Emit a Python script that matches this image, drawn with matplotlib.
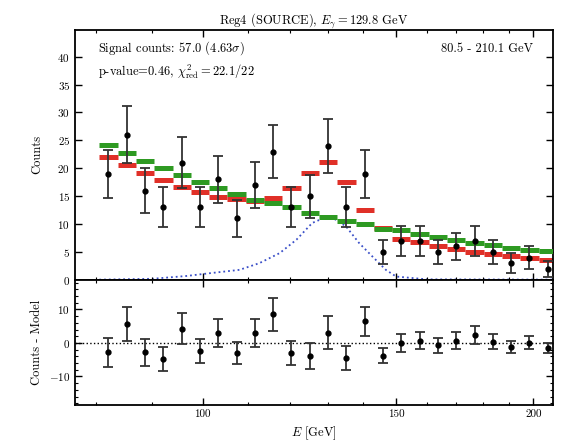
import numpy as np
import matplotlib
matplotlib.use("Agg")
import matplotlib.pyplot as plt
from matplotlib.ticker import FixedLocator, MultipleLocator, NullFormatter

plt.rcParams['font.family'] = 'serif'
plt.rcParams['font.serif'] = ['cmr10', 'DejaVu Serif']
plt.rcParams['mathtext.fontset'] = 'cm'
plt.rcParams['axes.formatter.use_mathtext'] = True
plt.rcParams['axes.unicode_minus'] = False

# energy range and binning (log spaced bins)
e_lo, e_hi, n_bins = 80.5, 210.1, 25
edges = np.geomspace(e_lo, e_hi, n_bins + 1)
centers = np.sqrt(edges[:-1] * edges[1:])

# counts per bin
counts = [19, 26, 16, 13, 21, 13, 18, 11, 17, 23, 13, 15, 24,
          13, 19, 5, 7, 7, 5, 6, 7, 5, 3, 4, 2]
# full model (background + line), red
model = [22.1, 20.6, 19.1, 17.9, 16.7, 15.8, 14.9, 14.5, 14.1, 14.7, 16.4, 19.1, 21.2,
         17.6, 12.6, 9.3, 7.4, 6.8, 6.1, 5.6, 5.0, 4.6, 4.2, 3.9, 3.5]
# background only model, green
bkg = [24.2, 22.7, 21.3, 20.0, 18.8, 17.6, 16.5, 15.4, 14.4, 13.8, 13.1, 12.0, 11.3,
       10.5, 10.0, 9.2, 8.9, 8.3, 7.7, 7.2, 6.7, 6.2, 5.8, 5.4, 5.1]
# counts - model
resid = [-2.8, 5.7, -2.8, -4.8, 4.2, -2.5, 3.0, -3.0, 3.0, 8.5, -3.0, -4.0, 3.0,
         -4.5, 6.5, -3.8, 0.0, 0.7, -0.7, 0.7, 2.4, 0.4, -1.3, 0.1, -1.5]

# line signal (blue dotted)
sig_e = [80.5, 90, 96.6, 101.5, 108, 112.6, 117.5, 121.7, 125.8, 130.4,
         135, 138.8, 142.7, 146.8, 150, 160, 210.1]
sig_c = [0.05, 0.2, 0.7, 1.2, 1.8, 3.0, 4.8, 7.2, 10.2, 11.5,
         9.6, 6.6, 4.2, 1.8, 0.6, 0.1, 0.05]

err = np.sqrt(counts)

fig, (ax, axr) = plt.subplots(2, 1, sharex=True, figsize=(5.68, 4.45), dpi=100,
                              gridspec_kw={'height_ratios': [2, 1]})
fig.subplots_adjust(left=0.132, right=0.974, top=0.933, bottom=0.09, hspace=0)

ax.plot(sig_e, sig_c, ls=':', color='#3a4fc8', lw=1.3, zorder=1)
ax.hlines(model, edges[:-1], edges[1:], color='#e03028', lw=3.6, zorder=2)
ax.hlines(bkg, edges[:-1], edges[1:], color='#2e9a22', lw=3.6, zorder=3)
ax.errorbar(centers, counts, yerr=err, fmt='o', color='black', ms=3.5,
            ecolor='0.2', elinewidth=1.3, capsize=3.5, capthick=1.3, zorder=4)

axr.axhline(0, color='black', ls=':', lw=1.0)
axr.errorbar(centers, resid, yerr=err, fmt='o', color='black', ms=3.5,
             ecolor='0.2', elinewidth=1.3, capsize=3.5, capthick=1.3)

ax.set_xscale('log')
ax.set_xlim(76.5, 208.5)
ax.set_ylim(0, 44.8)
axr.set_ylim(-18.5, 18.8)

for a in (ax, axr):
    a.xaxis.set_major_locator(FixedLocator([100, 150, 200]))
    a.xaxis.set_minor_locator(FixedLocator([80, 90, 110, 120, 130, 140, 160, 170, 180, 190]))
    a.xaxis.set_minor_formatter(NullFormatter())
    a.tick_params(which='both', direction='in', top=True, right=True, labelsize=8)
    a.tick_params(which='major', length=5, width=1)
    a.tick_params(which='minor', length=2.5, width=0.8)
    for s in a.spines.values():
        s.set_linewidth(1.3)

axr.set_xticklabels(['100', '150', '200'])
ax.yaxis.set_major_locator(MultipleLocator(5))
axr.yaxis.set_major_locator(MultipleLocator(10))
axr.yaxis.set_minor_locator(MultipleLocator(2))

ax.set_ylabel('Counts', fontsize=9)
axr.set_ylabel('Counts - Model', fontsize=9)
axr.set_xlabel(r'$E$ [GeV]', fontsize=9)
fig.align_ylabels([ax, axr])
ax.set_title(r'Reg4 (SOURCE), $E_\gamma=$129.8 GeV', fontsize=9, pad=4)

ax.text(0.048, 0.925, r'Signal counts: 57.0 (4.63$\sigma$)', transform=ax.transAxes,
        fontsize=9, va='center')
ax.text(0.048, 0.835, r'p-value=0.46, $\chi^2_{\rm red}=$22.1/22', transform=ax.transAxes,
        fontsize=9, va='center')
ax.text(0.958, 0.925, '80.5 - 210.1 GeV', transform=ax.transAxes,
        fontsize=9, va='center', ha='right')

fig.savefig('out.png', dpi=100)
